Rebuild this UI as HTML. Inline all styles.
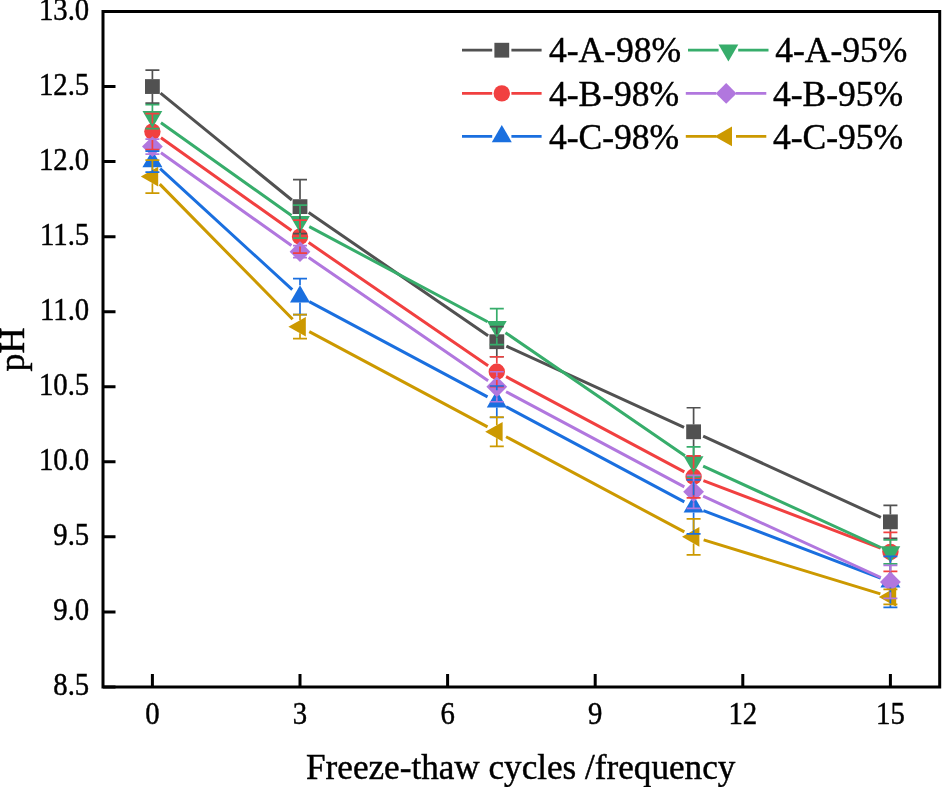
<!DOCTYPE html>
<html><head><meta charset="utf-8"><style>
html,body{margin:0;padding:0;background:#fff;}
svg{display:block;will-change:transform;font-family:"Liberation Serif",serif;}
text{stroke:#000;stroke-width:0.45px;}
.tk{font-size:30.6px;}
.lg{font-size:35.5px;}
.ax{font-size:35px;}
</style></head><body>
<svg width="942" height="787" viewBox="0 0 942 787">
<rect width="942" height="787" fill="#fff"/>
<path d="M160.55 93.18L291.85 200M308.66 212.57L488.14 335.78M506.35 346.09L684.05 427.41M703.15 436.15L880.85 517.47" stroke="#515151" stroke-width="3.0" fill="none"/><rect x="145" y="79.15" width="14.8" height="14.8" fill="#515151"/><rect x="292.6" y="199.23" width="14.8" height="14.8" fill="#515151"/><rect x="489.4" y="334.32" width="14.8" height="14.8" fill="#515151"/><rect x="686.2" y="424.38" width="14.8" height="14.8" fill="#515151"/><rect x="883" y="514.44" width="14.8" height="14.8" fill="#515151"/><path d="M160.95 137.67L291.45 230.56M308.66 242.59L488.14 365.8M506.06 376.69L684.34 471.86M703.41 480.55L880.59 548.12" stroke="#F14040" stroke-width="3.0" fill="none"/><circle cx="152.4" cy="131.58" r="8.2" fill="#F14040"/><circle cx="300" cy="236.65" r="8.2" fill="#F14040"/><circle cx="496.8" cy="371.74" r="8.2" fill="#F14040"/><circle cx="693.6" cy="476.81" r="8.2" fill="#F14040"/><circle cx="890.4" cy="551.86" r="8.2" fill="#F14040"/><path d="M160.15 168.69L292.25 289.6M309.26 301.64L487.54 396.81M506.06 406.71L684.34 501.88M703.41 510.57L880.59 578.14" stroke="#1A6FDF" stroke-width="3.0" fill="none"/><polygon points="152.4,150.13 162.4,167.33 142.4,167.33" fill="#1A6FDF"/><polygon points="300,285.22 310,302.42 290,302.42" fill="#1A6FDF"/><polygon points="496.8,390.29 506.8,407.49 486.8,407.49" fill="#1A6FDF"/><polygon points="693.6,495.36 703.6,512.56 683.6,512.56" fill="#1A6FDF"/><polygon points="890.4,570.41 900.4,587.61 880.4,587.61" fill="#1A6FDF"/><path d="M160.95 122.66L291.45 215.55M309.26 226.59L487.54 321.76M505.46 332.65L684.94 455.86M703.15 466.17L880.85 547.49" stroke="#37AD6B" stroke-width="3.0" fill="none"/><polygon points="142.5,110.9 162.3,110.9 152.4,127.9" fill="#37AD6B"/><polygon points="290.1,215.97 309.9,215.97 300,232.97" fill="#37AD6B"/><polygon points="486.9,321.04 506.7,321.04 496.8,338.04" fill="#37AD6B"/><polygon points="683.7,456.13 703.5,456.13 693.6,473.13" fill="#37AD6B"/><polygon points="880.5,546.19 900.3,546.19 890.4,563.19" fill="#37AD6B"/><path d="M160.95 152.68L291.45 245.57M308.66 257.6L488.14 380.81M506.06 391.7L684.34 486.87M703.15 496.19L880.85 577.51" stroke="#B177DE" stroke-width="3.0" fill="none"/><polygon points="152.4,136.19 162.8,146.59 152.4,156.99 142,146.59" fill="#B177DE"/><polygon points="300,241.26 310.4,251.66 300,262.06 289.6,251.66" fill="#B177DE"/><polygon points="496.8,376.35 507.2,386.75 496.8,397.15 486.4,386.75" fill="#B177DE"/><polygon points="693.6,481.42 704,491.82 693.6,502.22 683.2,491.82" fill="#B177DE"/><polygon points="890.4,571.48 900.8,581.88 890.4,592.28 880,581.88" fill="#B177DE"/><path d="M159.76 184.1L292.64 319.22M309.26 331.66L487.54 426.83M506.06 436.73L684.34 531.9M703.64 539.91L880.36 593.83" stroke="#CC9900" stroke-width="3.0" fill="none"/><polygon points="140.8,176.61 158.2,166.81 158.2,186.41" fill="#CC9900"/><polygon points="288.4,326.71 305.8,316.91 305.8,336.51" fill="#CC9900"/><polygon points="485.2,431.78 502.6,421.98 502.6,441.58" fill="#CC9900"/><polygon points="682,536.85 699.4,527.05 699.4,546.65" fill="#CC9900"/><polygon points="878.8,596.89 896.2,587.09 896.2,606.69" fill="#CC9900"/><path d="M152.4 70.04V79.15M152.4 93.95V103.06M145.4 70.04H159.4M145.4 103.06H159.4M300 179.61V199.23M300 214.03V233.65M293 179.61H307M293 233.65H307M496.8 326.71V334.32M496.8 349.12V356.73M489.8 326.71H503.8M489.8 356.73H503.8M693.6 407.76V424.38M693.6 439.18V455.8M686.6 407.76H700.6M686.6 455.8H700.6M890.4 505.33V514.44M890.4 529.24V538.35M883.4 505.33H897.4M883.4 538.35H897.4" stroke="#515151" stroke-width="1.7" fill="none"/><path d="M152.4 113.57V123.38M152.4 139.78V149.59M145.4 113.57H159.4M145.4 149.59H159.4M300 220.14V228.45M300 244.85V253.16M293 220.14H307M293 253.16H307M496.8 356.73V363.54M496.8 379.94V386.75M489.8 356.73H503.8M489.8 386.75H503.8M693.6 455.8V468.61M693.6 485.01V497.82M686.6 455.8H700.6M686.6 497.82H700.6M890.4 532.35V543.66M890.4 560.06V571.37M883.4 532.35H897.4M883.4 571.37H897.4" stroke="#F14040" stroke-width="1.7" fill="none"/><path d="M152.4 167.33V172.11M145.4 151.09H159.4M145.4 172.11H159.4M300 278.68V285.22M300 302.42V314.7M293 278.68H307M293 314.7H307M496.8 386V390.29M496.8 407.49V417.52M489.8 386H503.8M489.8 417.52H503.8M693.6 479.81V495.36M693.6 512.56V533.85M686.6 479.81H700.6M686.6 533.85H700.6M890.4 556.36V570.41M890.4 587.61V607.4M883.4 556.36H897.4M883.4 607.4H897.4" stroke="#1A6FDF" stroke-width="1.7" fill="none"/><path d="M152.4 104.56V110.9M152.4 127.9V128.58M145.4 104.56H159.4M145.4 128.58H159.4M300 205.13V215.97M300 232.97V238.15M293 205.13H307M293 238.15H307M496.8 308.7V321.04M496.8 338.04V344.72M489.8 308.7H503.8M489.8 344.72H503.8M693.6 446.79V456.13M693.6 473.13V476.81M686.6 446.79H700.6M686.6 476.81H700.6M890.4 539.85V546.19M890.4 563.19V563.87M883.4 539.85H897.4M883.4 563.87H897.4" stroke="#37AD6B" stroke-width="1.7" fill="none"/><path d="M145.4 139.08H159.4M145.4 154.1H159.4M293 245.66H307M293 257.66H307M496.8 371.74V376.35M496.8 397.15V401.76M489.8 371.74H503.8M489.8 401.76H503.8M693.6 475.31V481.42M693.6 502.22V508.33M686.6 475.31H700.6M686.6 508.33H700.6M890.4 565.37V571.48M890.4 592.28V598.39M883.4 565.37H897.4M883.4 598.39H897.4" stroke="#B177DE" stroke-width="1.7" fill="none"/><path d="M152.4 160.1V170.08M152.4 183.14V193.12M145.4 160.1H159.4M145.4 193.12H159.4M300 314.7V320.18M300 333.24V338.72M293 314.7H307M293 338.72H307M496.8 417.22V425.25M496.8 438.31V446.34M489.8 417.22H503.8M489.8 446.34H503.8M693.6 518.84V530.32M693.6 543.38V554.86M686.6 518.84H700.6M686.6 554.86H700.6M890.4 589.38V590.36M890.4 603.42V604.4M883.4 589.38H897.4M883.4 604.4H897.4" stroke="#CC9900" stroke-width="1.7" fill="none"/>
<rect x="103" y="11.5" width="836.7" height="675.5" fill="none" stroke="#000" stroke-width="3"/>
<path d="M103 686.95H115.5M103 611.9H115.5M103 536.85H115.5M103 461.8H115.5M103 386.75H115.5M103 311.7H115.5M103 236.65H115.5M103 161.6H115.5M103 86.55H115.5M103 11.5H115.5M152.4 687V674M300 687V674M447.6 687V674M595.2 687V674M742.8 687V674M890.4 687V674" stroke="#000" stroke-width="3" fill="none"/>
<g class="tk"><text transform="translate(89.2 695.25) scale(0.94 1)" text-anchor="end">8.5</text><text transform="translate(89.2 620.2) scale(0.94 1)" text-anchor="end">9.0</text><text transform="translate(89.2 545.15) scale(0.94 1)" text-anchor="end">9.5</text><text transform="translate(89.2 470.1) scale(0.94 1)" text-anchor="end">10.0</text><text transform="translate(89.2 395.05) scale(0.94 1)" text-anchor="end">10.5</text><text transform="translate(89.2 320) scale(0.94 1)" text-anchor="end">11.0</text><text transform="translate(89.2 244.95) scale(0.94 1)" text-anchor="end">11.5</text><text transform="translate(89.2 169.9) scale(0.94 1)" text-anchor="end">12.0</text><text transform="translate(89.2 94.85) scale(0.94 1)" text-anchor="end">12.5</text><text transform="translate(89.2 19.8) scale(0.94 1)" text-anchor="end">13.0</text><text transform="translate(152.4 723.9) scale(0.94 1)" text-anchor="middle">0</text><text transform="translate(300 723.9) scale(0.94 1)" text-anchor="middle">3</text><text transform="translate(447.6 723.9) scale(0.94 1)" text-anchor="middle">6</text><text transform="translate(595.2 723.9) scale(0.94 1)" text-anchor="middle">9</text><text transform="translate(742.8 723.9) scale(0.94 1)" text-anchor="middle">12</text><text transform="translate(890.4 723.9) scale(0.94 1)" text-anchor="middle">15</text></g>
<g><path d="M462 50.2H492.2M511.4 50.2H541.6" stroke="#515151" stroke-width="2.7"/><rect x="494.4" y="42.8" width="14.8" height="14.8" fill="#515151"/><text x="549" y="62.4" class="lg">4-A-98%</text><path d="M462 93.4H492.2M511.4 93.4H541.6" stroke="#F14040" stroke-width="2.7"/><circle cx="501.8" cy="93.4" r="8.2" fill="#F14040"/><text x="549" y="105.6" class="lg">4-B-98%</text><path d="M462 136.4H492.2M511.4 136.4H541.6" stroke="#1A6FDF" stroke-width="2.7"/><polygon points="501.8,124.93 511.8,142.13 491.8,142.13" fill="#1A6FDF"/><text x="549" y="148.6" class="lg">4-C-98%</text><path d="M688 50.2H718.6M738.2 50.2H768.5" stroke="#37AD6B" stroke-width="2.7"/><polygon points="718.5,44.53 738.3,44.53 728.4,61.53" fill="#37AD6B"/><text x="775.2" y="62.4" class="lg">4-A-95%</text><path d="M685.8 93.4H716.4M736 93.4H766.3" stroke="#B177DE" stroke-width="2.7"/><polygon points="726.2,83 736.6,93.4 726.2,103.8 715.8,93.4" fill="#B177DE"/><text x="773" y="105.6" class="lg">4-B-95%</text><path d="M685.8 136.4H716.4M736 136.4H766.3" stroke="#CC9900" stroke-width="2.7"/><polygon points="714.6,136.4 732,126.6 732,146.2" fill="#CC9900"/><text x="773" y="148.6" class="lg">4-C-95%</text></g>
<text class="ax" x="520.7" y="778.5" style="font-size:35.15px" text-anchor="middle">Freeze-thaw cycles /frequency</text>
<text class="ax" x="23.9" y="349.4" text-anchor="middle" transform="rotate(-90 23.9 349.4)" style="font-size:36px">pH</text>
</svg>
</body></html>
